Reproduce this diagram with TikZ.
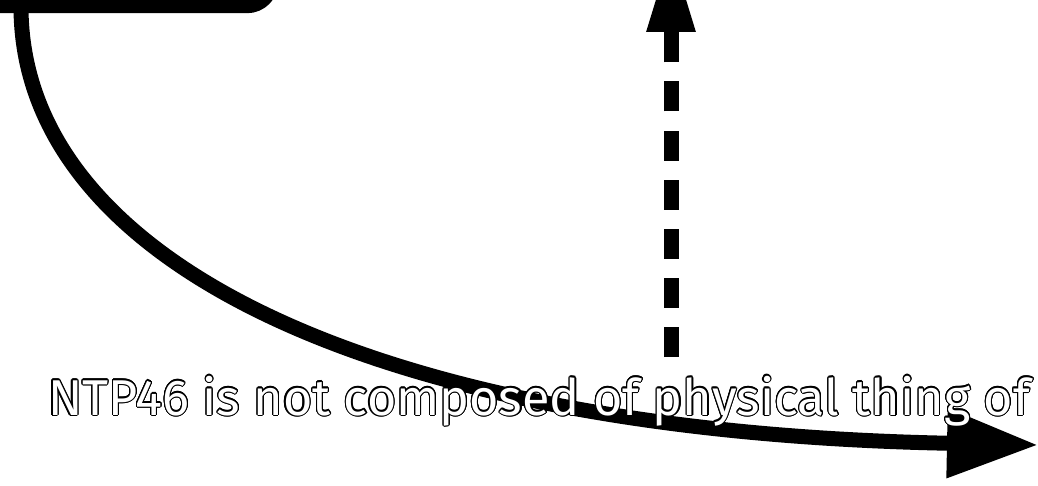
\documentclass[tikz,border=0pt]{standalone}
\usepackage{graphicx}
\usepackage{fontspec}
\setmainfont{Fira Sans}
\usetikzlibrary{arrows.meta}
\tikzset{
  conn/.style={line width=15pt, -{Triangle[length=91pt,width=66pt]}},
  dashconn/.style={line width=15pt, dash pattern=on 30pt off 19.1pt, -{Triangle[length=85pt,width=45pt]}},
  boxnode/.style={draw, line width=13pt, rounded corners=25pt, inner sep=0pt, outer sep=0pt, minimum width=322pt, minimum height=106.7pt},
  lbl/.style={anchor=base west, inner sep=0pt, outer sep=0pt, font=\fontsize{46pt}{50pt}\selectfont},
}
\newcommand\lbltext{\resizebox{982pt}{!}{NTP46 is not composed of physical thing of}}
\begin{document}
\begin{tikzpicture}[x=1pt,y=-1pt]
\useasboundingbox (0,0) rectangle (1038,486);
\clip (0,0) rectangle (1038,486);
\node[boxnode] (box) at (111,-46.65) {};
\coordinate (cend) at (1038,445);
\draw[conn] ([xshift=71pt]box.south west) .. controls (21,260) and (371,432) .. (cend);
\coordinate (dstart) at (671,357);
\coordinate (dend) at (671,-53);
\draw[dashconn] (dstart) -- (dend);
\foreach \a in {0,20,...,340}
  \node[lbl, text=black] at ([shift={(\a:1.1)}]48,415) {\lbltext};
\node[lbl, text=white] (label) at (48,415) {\lbltext};
\end{tikzpicture}
\end{document}
